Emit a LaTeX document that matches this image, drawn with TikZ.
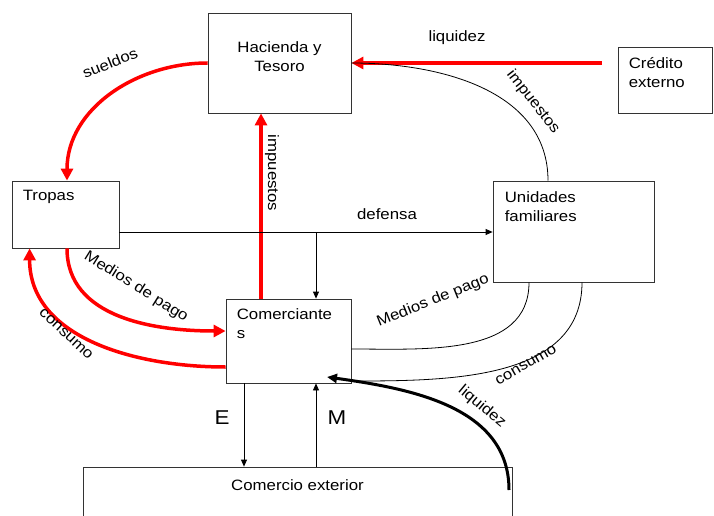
\documentclass[tikz,border=0pt]{standalone}
\usepackage{fontspec}
\setmainfont[FakeStretch=1.12]{Liberation Sans}
\usetikzlibrary{arrows.meta}

\begin{document}
\begin{tikzpicture}[x=1pt,y=-1pt,
  every node/.style={font=\fontsize{15}{19}\selectfont},
  caja/.style={draw=black!80,line width=0.8pt,inner sep=0pt},
  rotulo/.style={anchor=north west,align=left,inner sep=0pt},
  rojo/.style={draw=red,line width=3.5pt,-{Triangle[length=12pt,width=12pt]}},
  fino/.style={draw=black,line width=0.8pt},
  flecha/.style={fino,-{Triangle[length=7pt,width=6pt]}},
  letra/.style={font=\fontsize{20}{24}\selectfont}]
\clip (0,0) rectangle (714,516);

% cajas
\node[caja,minimum width=143pt,minimum height=100pt] (hacienda) at (279.5,63) {};
\node[align=center,inner sep=0pt] (hacienda-txt) at (279.5,57) {Hacienda y\\Tesoro};
\node[caja,minimum width=94.5pt,minimum height=66pt] (credito) at (665.25,80) {};
\node[rotulo] (credito-txt) at ([shift={(11pt,-11pt)}]credito.north west) {Crédito\\externo};
\node[caja,minimum width=107pt,minimum height=67pt] (tropas) at (65.5,214.5) {};
\node[rotulo] (tropas-txt) at ([shift={(11pt,-9pt)}]tropas.north west) {Tropas};
\node[caja,minimum width=161pt,minimum height=101pt] (unidades) at (573.5,231.5) {};
\node[rotulo] (unidades-txt) at ([shift={(12pt,-11pt)}]unidades.north west) {Unidades\\familiares};
\node[caja,minimum width=125pt,minimum height=84pt] (comerc) at (288.5,341) {};
\node[rotulo] (comerc-txt) at ([shift={(11pt,-10pt)}]comerc.north west) {Comerciante\\s};
\node[caja,minimum width=429pt,minimum height=93pt] (exterior) at (297.5,513.5) {};
\node[inner sep=0pt] (exterior-txt) at (297.5,485.5) {Comercio exterior};

% puntos sueltos
\coordinate (cred-sal) at ([shift={(-16pt,17pt)}]credito.west);
\coordinate (cruce) at (316,232);
\coordinate (liq-sal) at (509,490);
\coordinate (liq-lleg) at (327,377);
\coordinate (e-sal) at ([xshift=-44.5pt]comerc.south);
\coordinate (m-lleg) at ([xshift=27.5pt]comerc.south);

% flujos rojos
\draw[rojo] (cred-sal) -- (hacienda.east);
\draw[rojo] (hacienda.west) to[out=180,in=90] ([xshift=1.5pt]tropas.north);
\draw[rojo] ([xshift=-27.5pt]comerc.north) -- ([xshift=-18.5pt]hacienda.south);
\draw[rojo] ([xshift=1.5pt]tropas.south) to[out=-90,in=180] ([yshift=10pt]comerc.west);
\draw[rojo] ([yshift=-26pt]comerc.west) to[out=180,in=-90] ([xshift=18pt]tropas.south west);

% flujos negros
\draw[fino] ([xshift=-25.5pt]unidades.north) to[out=90,in=0] (hacienda.east);
\draw[flecha] (tropas.east |- cruce) -- (unidades.west |- cruce);
\draw[flecha] (cruce) -- (cruce |- comerc.north);
\draw[fino] ([xshift=-44.5pt]unidades.south) to[out=-90,in=0] ([yshift=-8pt]comerc.east);
\draw[fino] ([xshift=8.5pt]unidades.south) to[out=-90,in=0] ([yshift=-40pt]comerc.east);
\draw[line width=3pt,-{Triangle[length=10pt,width=9pt]}] (liq-sal) to[out=90,in=-8] (liq-lleg);
\draw[flecha] (e-sal) -- (e-sal |- exterior.north);
\draw[flecha] (m-lleg |- exterior.north) -- (m-lleg);

% rotulos de flujos
\node (lbl-liq1) at (457,38) {liquidez};
\node[rotate=-52] (lbl-imp1) at (533,102) {impuestos};
\node[rotate=22] (lbl-sue) at (110,63) {sueldos};
\node[rotate=-90] (lbl-imp2) at (272,173) {impuestos};
\node (lbl-def) at (387,214) {defensa};
\node[rotate=-32] (lbl-med1) at (136,287) {Medios de pago};
\node[rotate=-43] (lbl-con1) at (66,334) {consumo};
\node[rotate=22] (lbl-med2) at (433,301) {Medios de pago};
\node[rotate=30] (lbl-con2) at (526,365) {consumo};
\node[rotate=-40] (lbl-liq2) at (482,407) {liquidez};
\node[letra] (lbl-e) at (222,418) {E};
\node[letra] (lbl-m) at (337,418) {M};
\end{tikzpicture}
\end{document}
